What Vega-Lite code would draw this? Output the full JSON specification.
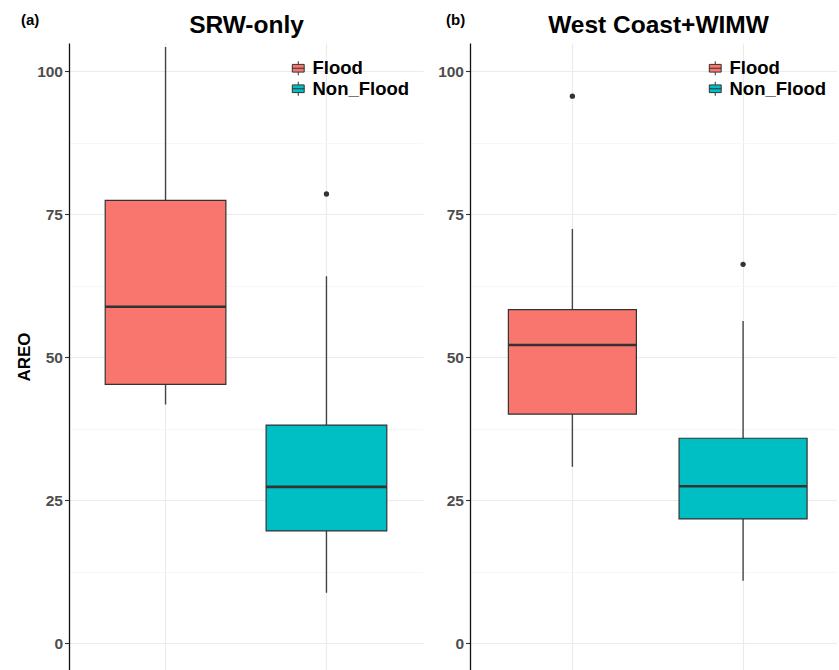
{
  "$schema": "https://vega.github.io/schema/vega-lite/v6.json",
  "background": "white",
  "padding": {"left": 15, "top": 12, "right": 0, "bottom": 0},
  "config": {
    "font": "Liberation Sans",
    "view": {"stroke": null},
    "title": {"fontWeight": "bold", "color": "#000000", "fontSize": 15}
  },
  "datasets": {
    "boxes": [
      {"panel": "a", "group": "Flood", "lower": 41.7, "q1": 45.2, "median": 58.8, "q3": 77.4, "upper": 104.2},
      {"panel": "a", "group": "Non_Flood", "lower": 8.8, "q1": 19.6, "median": 27.3, "q3": 38.1, "upper": 64.1},
      {"panel": "b", "group": "Flood", "lower": 30.8, "q1": 40.0, "median": 52.1, "q3": 58.3, "upper": 72.4},
      {"panel": "b", "group": "Non_Flood", "lower": 10.9, "q1": 21.7, "median": 27.4, "q3": 35.8, "upper": 56.3}
    ],
    "outliers": [
      {"panel": "a", "group": "Non_Flood", "value": 78.5},
      {"panel": "b", "group": "Flood", "value": 95.6},
      {"panel": "b", "group": "Non_Flood", "value": 66.2}
    ]
  },
  "spacing": 14,
  "resolve": {
    "scale": {"x": "independent", "y": "independent", "color": "independent"},
    "legend": {"color": "independent"}
  },
  "hconcat": [
    {
      "width": 354,
      "height": 627,
      "title": {"text": "(a)", "anchor": "start", "frame": "group", "dx": -48, "offset": -16},
      "layer": [
        {
          "data": {"name": "boxes"},
          "transform": [{"filter": "datum.panel === 'a'"}],
          "mark": {"type": "rule", "color": "#444444", "strokeWidth": 1.4},
          "encoding": {
            "x": {
              "field": "group", "type": "nominal", "title": "SRW-only",
              "scale": {"domain": ["Flood", "Non_Flood"], "paddingInner": 0.25, "paddingOuter": 0.225},
              "axis": {"orient": "top", "labels": false, "ticks": false, "domain": false, "grid": true, "gridColor": "#EBEBEB", "gridWidth": 1.1, "bandPosition": 0.5, "titleFontSize": 24.5, "titleFontWeight": "bold", "titleColor": "#000000", "titlePadding": 6}
            },
            "y": {
              "field": "lower", "type": "quantitative", "title": "AREO",
              "scale": {"domain": [-4.72, 104.9], "nice": false, "zero": false},
              "axis": {
                "values": [0, 12.5, 25, 37.5, 50, 62.5, 75, 87.5, 100],
                "labelExpr": "datum.value % 25 === 0 ? format(datum.value, 'd') : ''",
                "labelFontSize": 15.5, "labelFontWeight": "bold", "labelColor": "#4D4D4D", "labelPadding": 2,
                "tickSize": 4.5, "tickColor": "#333333", "tickWidth": 1.1,
                "tickOpacity": {"condition": {"test": "datum.value % 25 === 0", "value": 1}, "value": 0},
                "gridColor": {"condition": {"test": "datum.value % 25 === 0", "value": "#EBEBEB"}, "value": "#F5F5F5"},
                "gridWidth": {"condition": {"test": "datum.value % 25 === 0", "value": 1.1}, "value": 0.8},
                "domainColor": "#111111", "domainWidth": 1.3,
                "titleFontSize": 17, "titleFontWeight": "bold", "titleColor": "#000000", "titlePadding": 3
              }
            },
            "y2": {"field": "upper"}
          }
        },
        {
          "data": {"name": "boxes"},
          "transform": [{"filter": "datum.panel === 'a'"}],
          "mark": {"type": "bar", "stroke": "#333333", "strokeWidth": 1.2, "opacity": 1},
          "encoding": {
            "x": {"field": "group", "type": "nominal", "title": "SRW-only"},
            "y": {"field": "q1", "type": "quantitative", "title": "AREO"},
            "y2": {"field": "q3"},
            "color": {
              "field": "group", "type": "nominal",
              "scale": {"domain": ["Flood", "Non_Flood"], "range": ["#F8766D", "#00BFC4"]},
              "legend": {
                "orient": "none", "legendX": 220, "legendY": 16, "title": null, "padding": 0,
                "symbolType": "M-0.85,-0.55H0.85V0.55H-0.85Z M-0.85,0H0.85 M0,-0.55V-1 M0,0.55V1",
                "symbolSize": 196, "symbolStrokeColor": "#333333", "symbolStrokeWidth": 1, "symbolOpacity": 1,
                "labelFontSize": 18.5, "labelFontWeight": "bold", "labelColor": "#000000", "labelOffset": 5, "rowPadding": 1.5
              }
            }
          }
        },
        {
          "data": {"name": "boxes"},
          "transform": [{"filter": "datum.panel === 'a'"}],
          "mark": {"type": "tick", "color": "#333333", "thickness": 2.6, "size": 121, "opacity": 1},
          "encoding": {
            "x": {"field": "group", "type": "nominal", "title": "SRW-only"},
            "y": {"field": "median", "type": "quantitative", "title": "AREO"}
          }
        },
        {
          "data": {"name": "outliers"},
          "transform": [{"filter": "datum.panel === 'a'"}],
          "mark": {"type": "point", "filled": true, "color": "#333333", "size": 28, "opacity": 1},
          "encoding": {
            "x": {"field": "group", "type": "nominal", "title": "SRW-only"},
            "y": {"field": "value", "type": "quantitative", "title": "AREO"}
          }
        }
      ]
    },
    {
      "width": 367,
      "height": 627,
      "title": {"text": "(b)", "anchor": "start", "frame": "group", "dx": -24, "offset": -16},
      "layer": [
        {
          "data": {"name": "boxes"},
          "transform": [{"filter": "datum.panel === 'b'"}],
          "mark": {"type": "rule", "color": "#444444", "strokeWidth": 1.4},
          "encoding": {
            "x": {
              "field": "group", "type": "nominal", "title": "West Coast+WIMW",
              "scale": {"domain": ["Flood", "Non_Flood"], "paddingInner": 0.25, "paddingOuter": 0.2, "align": 0.562},
              "axis": {"orient": "top", "labels": false, "ticks": false, "domain": false, "grid": true, "gridColor": "#EBEBEB", "gridWidth": 1.1, "bandPosition": 0.5, "titleFontSize": 24.5, "titleFontWeight": "bold", "titleColor": "#000000", "titlePadding": 6, "titleX": 188}
            },
            "y": {
              "field": "lower", "type": "quantitative", "title": null,
              "scale": {"domain": [-4.72, 104.9], "nice": false, "zero": false},
              "axis": {
                "values": [0, 12.5, 25, 37.5, 50, 62.5, 75, 87.5, 100],
                "labelExpr": "datum.value % 25 === 0 ? format(datum.value, 'd') : ''",
                "labelFontSize": 15.5, "labelFontWeight": "bold", "labelColor": "#4D4D4D", "labelPadding": 2,
                "tickSize": 4.5, "tickColor": "#333333", "tickWidth": 1.1,
                "tickOpacity": {"condition": {"test": "datum.value % 25 === 0", "value": 1}, "value": 0},
                "gridColor": {"condition": {"test": "datum.value % 25 === 0", "value": "#EBEBEB"}, "value": "#F5F5F5"},
                "gridWidth": {"condition": {"test": "datum.value % 25 === 0", "value": 1.1}, "value": 0.8},
                "domainColor": "#111111", "domainWidth": 1.3
              }
            },
            "y2": {"field": "upper"}
          }
        },
        {
          "data": {"name": "boxes"},
          "transform": [{"filter": "datum.panel === 'b'"}],
          "mark": {"type": "bar", "stroke": "#333333", "strokeWidth": 1.2, "opacity": 1},
          "encoding": {
            "x": {"field": "group", "type": "nominal", "title": "West Coast+WIMW"},
            "y": {"field": "q1", "type": "quantitative", "title": null},
            "y2": {"field": "q3"},
            "color": {
              "field": "group", "type": "nominal",
              "scale": {"domain": ["Flood", "Non_Flood"], "range": ["#F8766D", "#00BFC4"]},
              "legend": {
                "orient": "none", "legendX": 236, "legendY": 16, "title": null, "padding": 0,
                "symbolType": "M-0.85,-0.55H0.85V0.55H-0.85Z M-0.85,0H0.85 M0,-0.55V-1 M0,0.55V1",
                "symbolSize": 196, "symbolStrokeColor": "#333333", "symbolStrokeWidth": 1, "symbolOpacity": 1,
                "labelFontSize": 18.5, "labelFontWeight": "bold", "labelColor": "#000000", "labelOffset": 5, "rowPadding": 1.5
              }
            }
          }
        },
        {
          "data": {"name": "boxes"},
          "transform": [{"filter": "datum.panel === 'b'"}],
          "mark": {"type": "tick", "color": "#333333", "thickness": 2.6, "size": 128, "opacity": 1},
          "encoding": {
            "x": {"field": "group", "type": "nominal", "title": "West Coast+WIMW"},
            "y": {"field": "median", "type": "quantitative", "title": null}
          }
        },
        {
          "data": {"name": "outliers"},
          "transform": [{"filter": "datum.panel === 'b'"}],
          "mark": {"type": "point", "filled": true, "color": "#333333", "size": 28, "opacity": 1},
          "encoding": {
            "x": {"field": "group", "type": "nominal", "title": "West Coast+WIMW"},
            "y": {"field": "value", "type": "quantitative", "title": null}
          }
        }
      ]
    }
  ]
}
